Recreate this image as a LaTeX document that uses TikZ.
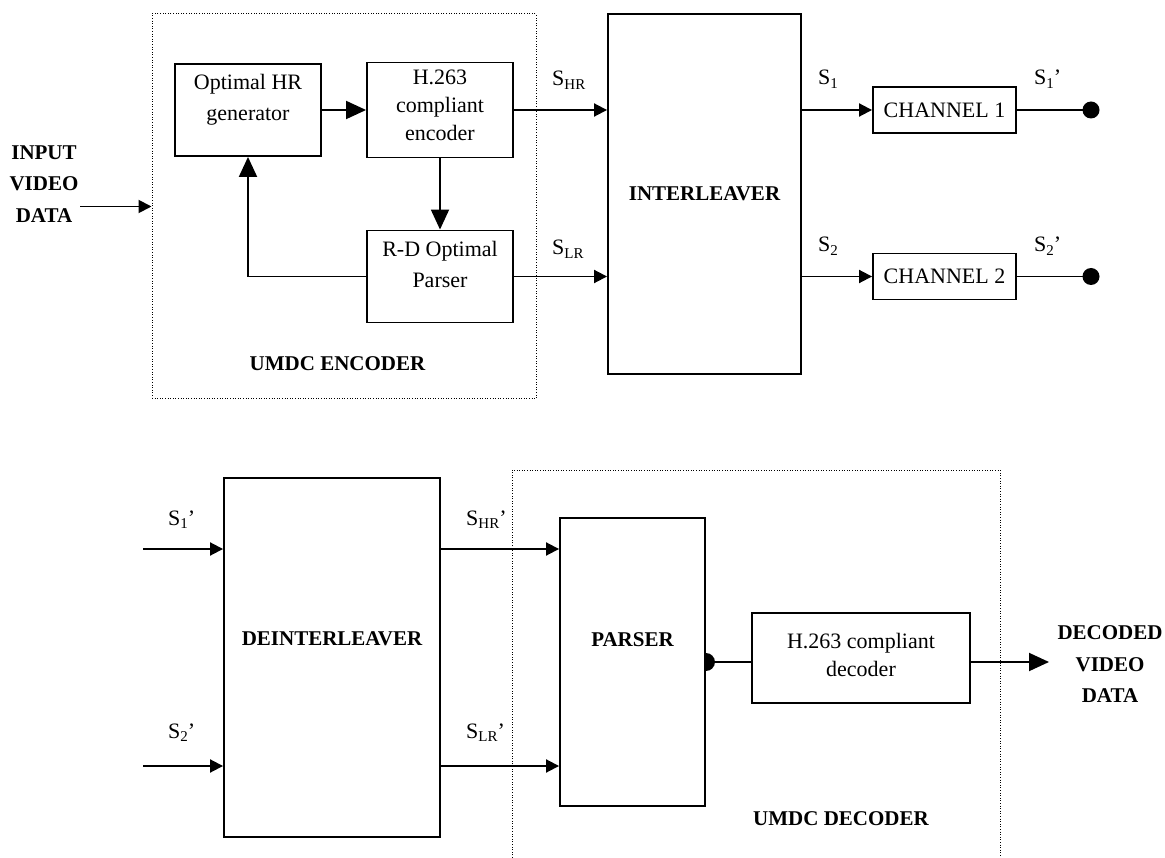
\documentclass[tikz,border=0pt]{standalone}
\usepackage{fontspec}
\setmainfont{Liberation Serif}
\usetikzlibrary{arrows.meta,calc}
\newcommand{\sbs}[1]{\raisebox{-3.5pt}{\fontsize{15}{15}\selectfont #1}}
\newcommand{\dgReg}{\fontsize{22}{28}\selectfont}
\newcommand{\dgRegW}{\fontsize{22}{31}\selectfont}
\newcommand{\dgBold}{\fontsize{21}{31.5}\selectfont\bfseries}
\begin{document}
\begin{tikzpicture}[x=1pt,y=-1pt,
  box/.style={draw, line width=1.9pt, inner sep=0pt, font=\dgReg},
  dotbox/.style={draw, line width=1pt, dash pattern=on 1pt off 1.6pt, inner sep=0pt},
  dotline/.style={line width=1pt, dash pattern=on 1pt off 1.6pt},
  txt/.style={align=center, inner sep=0pt, font=\dgReg},
  txtw/.style={align=center, inner sep=0pt, font=\dgRegW},
  btxt/.style={align=center, inner sep=0pt, font=\dgBold},
  lbl/.style={inner sep=0pt, font=\dgReg, anchor=base west},
  wire/.style={line width=1.9pt},
  arr/.style={line width=1.9pt, -{Triangle[length=13pt,width=13pt]}},
  bigarr/.style={line width=1.9pt, -{Triangle[length=20pt,width=18pt]}}]
\useasboundingbox (0,0) rectangle (1165,858);

% ---------- encoder side ----------
\node[dotbox, minimum width=384pt, minimum height=385pt] (enc) at (344,206.5) {};
\node[box, minimum width=146pt, minimum height=92pt] (hr) at (248,110) {};
\node[box, minimum width=146pt, minimum height=95pt] (h263) at (440,110) {};
\node[box, minimum width=146pt, minimum height=92pt] (rd) at (440,276.5) {};
\node[box, minimum width=193pt, minimum height=360pt] (intl) at (704.5,194) {};
\node[box, minimum width=143pt, minimum height=46pt] (ch1) at (944.5,110) {CHANNEL 1};
\node[box, minimum width=143pt, minimum height=46pt] (ch2) at (944.5,276.5) {CHANNEL 2};

\node[txtw] (thr) at ($(hr.center)+(0,-10)$) {Optimal HR\\generator};
\node[txt] (th263) at ($(h263.center)+(0,-5)$) {H.263\\compliant\\encoder};
\node[txtw] (trd) at ($(rd.center)+(0,-12)$) {R-D Optimal\\Parser};
\node[btxt] (tintl) at (intl.center) {INTERLEAVER};
\node[btxt] (inp) at (44,184) {INPUT\\VIDEO\\DATA};
\node[btxt] (encl) at (337.5,363.7) {UMDC ENCODER};

\node[lbl] (lshr) at (552,86) {S\sbs{HR}};
\node[lbl] (lslr) at (552,255) {S\sbs{LR}};
\node[lbl] (ls1) at (818,85) {S\sbs{1}};
\node[lbl] (ls2) at (818,252) {S\sbs{2}};
\node[lbl] (ls1p) at (1034,85) {S\sbs{1}’};
\node[lbl] (ls2p) at (1034,252) {S\sbs{2}’};

\coordinate (inA) at (80,206.5);
\coordinate (o1) at (1091,110);
\coordinate (o2) at (1091,276.5);

\draw[arr] (inA) -- (enc.west);
\draw[bigarr] (hr.east) -- (h263.west);
\draw[bigarr] (h263.south) -- (rd.north);
\draw[bigarr] (rd.west) -| (hr.south);
\draw[arr] (h263.east) -- (h263.east -| intl.west);
\draw[arr] (rd.east) -- (rd.east -| intl.west);
\draw[arr] (ch1.west -| intl.east) -- (ch1.west);
\draw[arr] (ch2.west -| intl.east) -- (ch2.west);
\draw[wire] (ch1.east) -- (o1);
\draw[wire] (ch2.east) -- (o2);
\fill (o1) circle[radius=8.5pt];
\fill (o2) circle[radius=8.5pt];

% ---------- decoder side ----------
\draw[dotline] (512,858) -- (512,470) -- (1000,470) -- (1000,858);
\node[box, minimum width=216pt, minimum height=359pt] (deint) at (332,657.5) {};
\node[box, minimum width=145pt, minimum height=288pt] (pars) at (632.5,662) {};
\node[box, minimum width=218pt, minimum height=90pt] (dec) at (861,658) {};

\node[btxt] (tdeint) at ($(deint.center)+(0,-18.5)$) {DEINTERLEAVER};
\node[btxt] (tpars) at ($(pars.center)+(0,-22)$) {PARSER};
\node[txt] (tdec) at ($(dec.center)+(0,-3)$) {H.263 compliant\\decoder};
\node[btxt] (outp) at (1110,664.5) {DECODED\\VIDEO\\DATA};
\node[btxt] (decl) at (841,819) {UMDC DECODER};

\node[lbl] (li1) at (168,525) {S\sbs{1}’};
\node[lbl] (li2) at (168,738) {S\sbs{2}’};
\node[lbl] (lhrp) at (466,525) {S\sbs{HR}’};
\node[lbl] (llrp) at (466,738) {S\sbs{LR}’};

\coordinate (i1) at (143,549);
\coordinate (i2) at (143,766);
\coordinate (oD) at (1049,662);

\draw[arr] (i1) -- (i1 -| deint.west);
\draw[arr] (i2) -- (i2 -| deint.west);
\draw[arr] (deint.east |- i1) -- (pars.west |- i1);
\draw[arr] (deint.east |- i2) -- (pars.west |- i2);
\draw[wire] (pars.east) -- (pars.east -| dec.west);
\fill ($(pars.east)+(0,9)$) arc[start angle=-90, end angle=90, radius=9pt] -- cycle;
\draw[bigarr] (dec.east |- pars.east) -- (oD);
\end{tikzpicture}
\end{document}
